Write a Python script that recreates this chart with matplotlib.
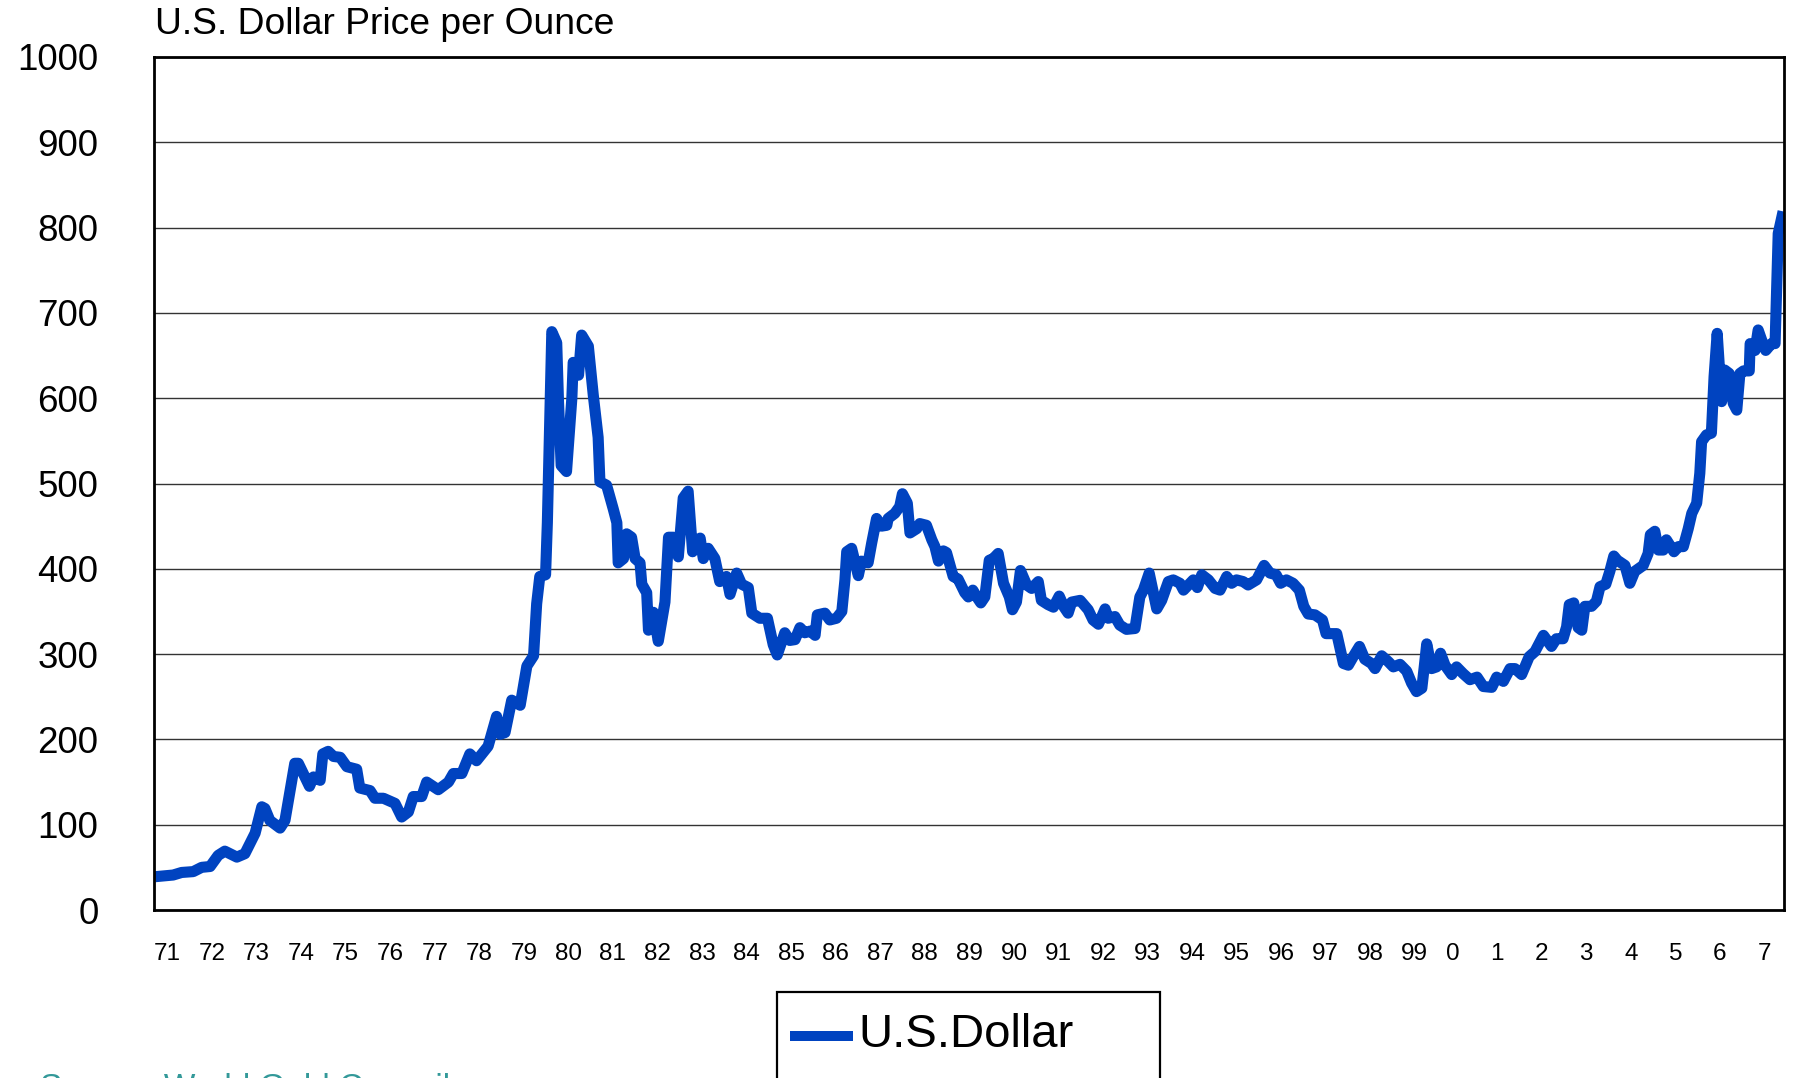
import matplotlib
matplotlib.use('Agg')
import matplotlib.pyplot as plt
from matplotlib.patches import Rectangle
from matplotlib.lines import Line2D

plt.rcParams['font.family'] = ['Liberation Sans', 'DejaVu Sans']

# gold price (decimal year, USD per ounce)
date = [1971.02, 1971.43, 1971.62, 1971.88, 1972.07, 1972.26, 1972.44, 1972.59, 1972.86,
        1973.04, 1973.27, 1973.42, 1973.49, 1973.60, 1973.83, 1973.94, 1974.16, 1974.24,
        1974.49, 1974.58, 1974.73, 1974.79, 1974.91, 1975.03, 1975.18, 1975.33, 1975.55,
        1975.62, 1975.85, 1975.96, 1976.15, 1976.41, 1976.56, 1976.71, 1976.82, 1977.01,
        1977.12, 1977.38, 1977.61, 1977.72, 1977.91, 1978.09, 1978.24, 1978.50, 1978.69,
        1978.77, 1978.88, 1979.03, 1979.22, 1979.37, 1979.52, 1979.59, 1979.66, 1979.79,
        1979.83, 1979.93, 1980.04, 1980.08, 1980.14, 1980.26, 1980.38, 1980.41, 1980.53,
        1980.60, 1980.75, 1980.86, 1980.97, 1981.01, 1981.16, 1981.31, 1981.39, 1981.42,
        1981.54, 1981.61, 1981.72, 1981.80, 1981.91, 1981.95, 1982.06, 1982.10, 1982.21,
        1982.32, 1982.47, 1982.55, 1982.66, 1982.77, 1982.88, 1982.99, 1983.09, 1983.26,
        1983.33, 1983.44, 1983.59, 1983.70, 1983.85, 1983.93, 1984.08, 1984.19, 1984.34,
        1984.42, 1984.60, 1984.77, 1984.90, 1984.99, 1985.16, 1985.27, 1985.39, 1985.50,
        1985.61, 1985.73, 1985.84, 1985.89, 1986.06, 1986.17, 1986.32, 1986.44, 1986.51,
        1986.55, 1986.66, 1986.81, 1986.88, 1987.03, 1987.11, 1987.22, 1987.33, 1987.45,
        1987.48, 1987.63, 1987.74, 1987.80, 1987.91, 1987.97, 1988.12, 1988.19, 1988.34,
        1988.46, 1988.53, 1988.61, 1988.72, 1988.79, 1988.94, 1989.05, 1989.20, 1989.28,
        1989.38, 1989.47, 1989.56, 1989.65, 1989.75, 1989.84, 1989.95, 1990.07, 1990.20,
        1990.27, 1990.36, 1990.45, 1990.59, 1990.70, 1990.85, 1990.92, 1991.07, 1991.19,
        1991.32, 1991.43, 1991.52, 1991.60, 1991.79, 1991.97, 1992.08, 1992.20, 1992.35,
        1992.42, 1992.57, 1992.68, 1992.83, 1993.02, 1993.13, 1993.21, 1993.34, 1993.51,
        1993.62, 1993.77, 1993.88, 1994.03, 1994.11, 1994.22, 1994.33, 1994.42, 1994.52,
        1994.67, 1994.82, 1994.93, 1995.08, 1995.19, 1995.30, 1995.45, 1995.56, 1995.75,
        1995.92, 1996.05, 1996.19, 1996.29, 1996.42, 1996.57, 1996.71, 1996.81, 1996.91,
        1997.06, 1997.23, 1997.31, 1997.55, 1997.70, 1997.81, 1997.92, 1998.06, 1998.18,
        1998.33, 1998.41, 1998.56, 1998.71, 1998.82, 1998.97, 1999.12, 1999.23, 1999.34,
        1999.46, 1999.51, 1999.57, 1999.68, 1999.79, 1999.88, 1999.98, 2000.13, 2000.24,
        2000.39, 2000.54, 2000.70, 2000.84, 2001.03, 2001.14, 2001.29, 2001.44, 2001.55,
        2001.70, 2001.87, 2002.00, 2002.19, 2002.37, 2002.48, 2002.63, 2002.71, 2002.77,
        2002.87, 2002.97, 2003.05, 2003.12, 2003.27, 2003.38, 2003.46, 2003.59, 2003.68,
        2003.77, 2003.85, 2004.02, 2004.13, 2004.24, 2004.43, 2004.54, 2004.59, 2004.69,
        2004.77, 2004.88, 2004.95, 2005.12, 2005.22, 2005.33, 2005.44, 2005.52, 2005.63,
        2005.70, 2005.74, 2005.85, 2005.96, 2006.02, 2006.09, 2006.19, 2006.26, 2006.36,
        2006.45, 2006.53, 2006.60, 2006.68, 2006.81, 2006.83, 2006.94, 2007.01, 2007.09,
        2007.18, 2007.31, 2007.39, 2007.46, 2007.57]
usd = [39, 41, 44, 45, 50, 51, 64, 69, 62,
       66, 90, 121, 119, 105, 96, 105, 172, 172,
       145, 156, 152, 183, 186, 180, 179, 168, 165,
       143, 140, 131, 131, 125, 109, 115, 133, 133,
       150, 141, 150, 160, 160, 183, 175, 192, 227,
       206, 208, 246, 240, 286, 298, 359, 391, 393,
       454, 678, 665, 596, 521, 514, 600, 642, 627,
       674, 661, 604, 554, 502, 498, 470, 454, 407,
       412, 441, 437, 412, 407, 382, 372, 328, 349,
       315, 361, 437, 437, 414, 483, 491, 420, 436,
       412, 424, 412, 385, 391, 370, 395, 382, 378,
       348, 342, 342, 311, 299, 325, 316, 317, 331,
       325, 327, 322, 346, 348, 340, 342, 350, 387,
       420, 424, 392, 409, 407, 430, 459, 450, 451,
       459, 465, 473, 488, 477, 442, 447, 453, 451,
       434, 426, 409, 421, 419, 391, 388, 372, 367,
       375, 367, 360, 367, 410, 412, 418, 383, 367,
       352, 361, 398, 381, 377, 385, 363, 358, 355,
       368, 355, 348, 361, 363, 352, 340, 335, 353,
       342, 344, 334, 329, 330, 367, 375, 395, 353,
       363, 385, 387, 383, 375, 381, 387, 378, 393,
       387, 377, 375, 391, 383, 387, 385, 381, 387,
       404, 395, 393, 383, 387, 383, 375, 356, 347,
       346, 340, 324, 324, 289, 287, 297, 309, 294,
       289, 283, 298, 291, 285, 288, 280, 266, 256,
       260, 283, 312, 283, 285, 301, 287, 276, 285,
       277, 270, 273, 262, 261, 273, 268, 283, 283,
       276, 297, 303, 322, 309, 318, 318, 332, 358,
       360, 331, 328, 356, 356, 362, 379, 382, 397,
       415, 410, 404, 383, 397, 404, 418, 440, 444,
       422, 422, 434, 420, 426, 426, 447, 465, 477,
       512, 549, 557, 559, 625, 676, 596, 633, 629,
       594, 586, 629, 632, 632, 664, 656, 680, 668,
       656, 664, 664, 793, 819]

years = list(range(1971, 2008))
year_labels = ['71', '72', '73', '74', '75', '76', '77', '78', '79', '80', '81', '82',
               '83', '84', '85', '86', '87', '88', '89', '90', '91', '92', '93', '94',
               '95', '96', '97', '98', '99', '0', '1', '2', '3', '4', '5', '6', '7']

blue = '#0043C0'

fig = plt.figure(figsize=(17.95, 10.78), dpi=100)
ax = fig.add_axes([154 / 1795, 1 - 910 / 1078, 1630 / 1795, 853 / 1078])
ax.plot(date, usd, color=blue, lw=8, solid_joinstyle='round', solid_capstyle='butt')

ax.set_xlim(1971, 2007.59)
ax.set_ylim(0, 1000)
ax.set_yticks(range(0, 1001, 100))
ax.set_xticks(years)
ax.set_xticklabels(year_labels, ha='left')
ax.tick_params(axis='x', length=0, pad=24, labelsize=17.5)
ax.tick_params(axis='y', length=0, pad=40, labelsize=26.5)
ax.grid(axis='y', color='#333333', lw=1.0)
ax.set_axisbelow(True)
for s in ax.spines.values():
    s.set_linewidth(2)
    s.set_color('black')

fig.text(155 / 1795, 1 - 34 / 1078, 'U.S. Dollar Price per Ounce', fontsize=26.8, va='baseline')

# legend box sits partly off the bottom of the page
fig.add_artist(Rectangle((777 / 1795, -0.05), 383 / 1795, 0.05 + (1078 - 992) / 1078,
                         transform=fig.transFigure, fill=False, ec='black', lw=1.6))
fig.add_artist(Line2D([795 / 1795, 848 / 1795], [1 - 1036 / 1078] * 2,
                      transform=fig.transFigure, color=blue, lw=7.2))
fig.text(858 / 1795, 1 - 1047 / 1078, 'U.S.Dollar', fontsize=34, va='baseline')

fig.text(40 / 1795, 1 - 1073 / 1078, 'Source: World Gold Council', color='#339999',
         fontsize=24, va='top')

fig.savefig('out.png', dpi=100)
